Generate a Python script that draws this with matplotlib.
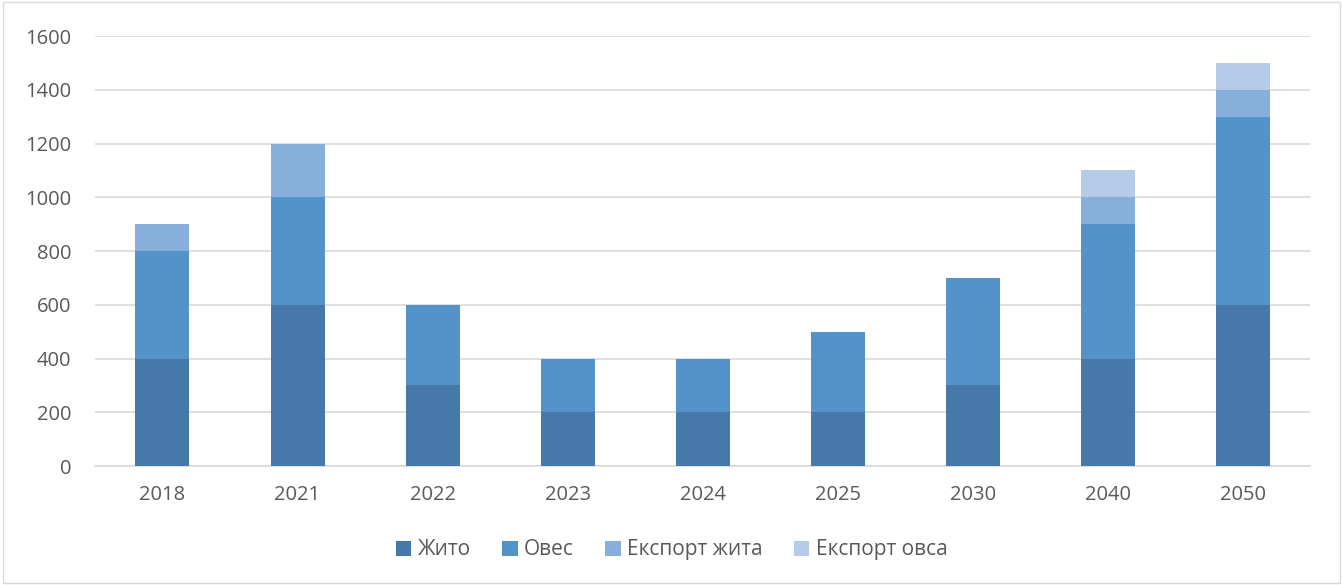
import matplotlib
matplotlib.use("Agg")
import matplotlib.pyplot as plt
from matplotlib.patches import Rectangle
import numpy as np

plt.rcParams['font.family'] = ['Open Sans', 'DejaVu Sans']

years = ['2018', '2021', '2022', '2023', '2024', '2025', '2030', '2040', '2050']
zhyto = [400, 600, 300, 200, 200, 200, 300, 400, 600]
oves = [400, 400, 300, 200, 200, 300, 400, 500, 700]
export_zhyta = [100, 200, 0, 0, 0, 0, 0, 100, 100]
export_ovsa = [0, 0, 0, 0, 0, 0, 0, 100, 100]

series = [
    ('Жито', zhyto, '#4679aa'),
    ('Овес', oves, '#5492ca'),
    ('Експорт жита', export_zhyta, '#87afdc'),
    ('Експорт овса', export_ovsa, '#b5cbe8'),
]

fig = plt.figure(figsize=(13.43, 5.85), dpi=100)
fig.patches.append(Rectangle((0.002, 0.003), 0.996, 0.994, transform=fig.transFigure,
                             fill=False, edgecolor='#d9d9d9', linewidth=1))
ax = fig.add_axes([0.0707, 0.2034, 0.905, 0.735])

x = np.arange(len(years))
bottom = np.zeros(len(years))
for name, vals, color in series:
    vals = np.array(vals, dtype=float)
    ax.bar(x, vals, width=0.4, bottom=bottom, color=color, label=name, zorder=3)
    bottom += vals

ax.set_xlim(-0.5, len(years) - 0.5)
ax.set_ylim(0, 1600)
ax.set_yticks(range(0, 1601, 200))
ax.set_xticks(x)
ax.set_xticklabels(years)
ax.yaxis.grid(True, color='#d9d9d9', linewidth=1.2, zorder=0)
for s in ['top', 'right', 'left']:
    ax.spines[s].set_visible(False)
ax.spines['bottom'].set_color('#d9d9d9')
ax.spines['bottom'].set_linewidth(1.2)
ax.tick_params(axis='both', length=0, labelsize=14.5, colors='#595959')
ax.tick_params(axis='x', pad=14)
ax.tick_params(axis='y', pad=17)

fig.legend(loc='lower center', bbox_to_anchor=(0.5, 0.01), ncol=4, frameon=False,
           fontsize=15, labelcolor='#595959', handlelength=0.75, handleheight=0.75,
           handletextpad=0.3, columnspacing=1.5)

fig.savefig('out.png', dpi=100)
